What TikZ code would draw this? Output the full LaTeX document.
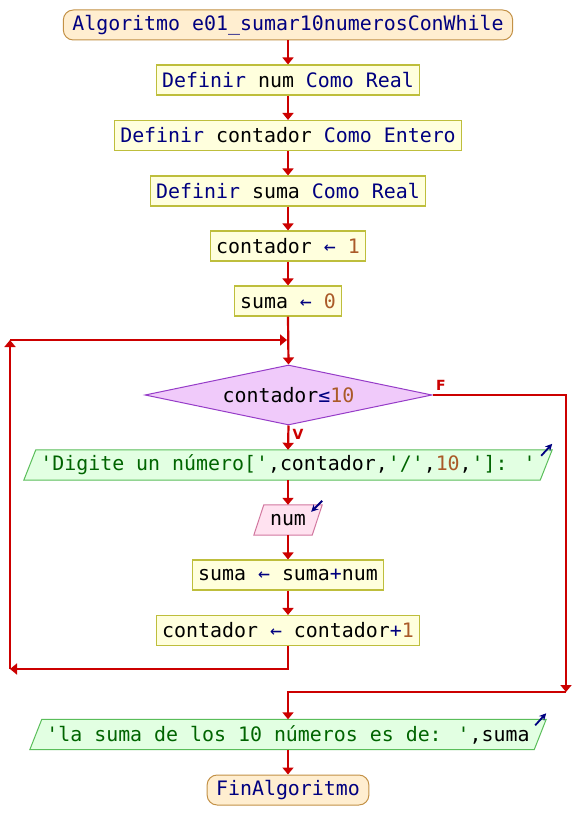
\documentclass[tikz,border=0pt]{standalone}
\usepackage{fontspec}
\newfontfamily\codefont[Ligatures=TeXOff]{DejaVu Sans Mono}
\newfontfamily\labelfont{DejaVu Sans}
\usetikzlibrary{arrows.meta,shapes.geometric,backgrounds}

% syntax colours
\definecolor{kwnavy}{RGB}{0,0,128}
\definecolor{strgreen}{RGB}{0,100,0}
\definecolor{numbrown}{RGB}{170,90,40}
% block colours
\definecolor{flowred}{RGB}{204,0,0}
\definecolor{procfill}{RGB}{255,255,221}
\definecolor{procborder}{RGB}{190,190,60}
\definecolor{termfill}{RGB}{255,238,208}
\definecolor{termborder}{RGB}{195,145,70}
\definecolor{decfill}{RGB}{240,202,250}
\definecolor{decborder}{RGB}{150,60,200}
\definecolor{outfill}{RGB}{226,255,226}
\definecolor{outborder}{RGB}{90,190,90}
\definecolor{infill}{RGB}{255,226,240}
\definecolor{inborder}{RGB}{210,120,160}

\newcommand\kwd[1]{\textcolor{kwnavy}{#1}}
\newcommand\strg[1]{\textcolor{strgreen}{#1}}
\newcommand\nmb[1]{\textcolor{numbrown}{#1}}
\newcommand\opr[1]{\textcolor{kwnavy}{#1}}

\begin{document}
\begin{tikzpicture}[x=1pt,y=-1pt,
  every node/.style={font=\codefont\fontsize{19.9}{24}\selectfont},
  flowline/.style={draw=flowred,line width=2.2pt},
  flowarrow/.style={flowline,-{Triangle[width=11pt,length=7pt]}},
  term/.style={rectangle,rounded corners=10pt,draw=termborder,fill=termfill,
    line width=1pt,minimum height=30pt,inner xsep=9pt,inner ysep=0pt},
  proc/.style={rectangle,draw=procborder,fill=procfill,line width=1.1pt,
    minimum height=30pt,inner xsep=6pt,inner ysep=0pt},
  decision/.style={diamond,draw=decborder,fill=decfill,line width=1pt,
    aspect=4.8,inner sep=0pt,minimum width=287pt,minimum height=60pt},
  iotext/.style={rectangle,minimum height=30pt,inner sep=0pt},
  outshape/.style={draw=outborder,fill=outfill,line width=1pt},
  inshape/.style={draw=inborder,fill=infill,line width=1pt},
  iomark/.style={draw=kwnavy,line width=1.8pt,-{Stealth[length=7pt,width=7pt]}},
  branch/.style={font=\labelfont\bfseries\fontsize{14}{16}\selectfont,text=flowred,inner sep=0pt}
]
\useasboundingbox (0,0) rectangle (576,840);
\begin{scope}[on background layer]
  \fill[white] (0,0) rectangle (576,840);
\end{scope}

% sequence of blocks
\node[term] (start) at (288,25) {\kwd{Algoritmo e01\_sumar10numerosConWhile}};
\node[proc] (d1) at (288,80) {\kwd{Definir} num \kwd{Como Real}};
\node[proc] (d2) at (288,135.5) {\kwd{Definir} contador \kwd{Como Entero}};
\node[proc] (d3) at (288,191) {\kwd{Definir} suma \kwd{Como Real}};
\node[proc] (a1) at (288,246) {contador \opr{←} \nmb{1}};
\node[proc] (a2) at (288,301) {suma \opr{←} \nmb{0}};
\node[decision] (dec) at (288.5,395) {contador\opr{≤}\nmb{10}};
\node[iotext,minimum width=504pt] (o1) at (288,465)
  {\strg{'Digite un número['},contador,\strg{'/'},\nmb{10},\strg{']: '}};
\node[iotext,minimum width=48pt] (in) at (288,520) {num};
\node[proc] (a3) at (288,575) {suma \opr{←} suma\opr{+}num};
\node[proc] (a4) at (288,630.5) {contador \opr{←} contador\opr{+}\nmb{1}};
\node[iotext,minimum width=492pt] (o2) at (288,734.5)
  {\strg{'la suma de los 10 números es de: '},suma};
\node[term] (stop) at (288,790) {\kwd{FinAlgoritmo}};

% parallelogram outlines behind the input/output texts
\begin{scope}[on background layer]
  \path[outshape] ([xshift=-12pt]o1.south west) -- (o1.south east)
    -- ([xshift=12pt]o1.north east) -- (o1.north west) -- cycle;
  \path[inshape] ([xshift=-10pt]in.south west) -- (in.south east)
    -- ([xshift=10pt]in.north east) -- (in.north west) -- cycle;
  \path[outshape] ([xshift=-12pt]o2.south west) -- (o2.south east)
    -- ([xshift=12pt]o2.north east) -- (o2.north west) -- cycle;
\end{scope}

% input / output markers
\draw[iomark] ([xshift=1pt,yshift=-6pt]o1.north east) -- ([xshift=12pt,yshift=6pt]o1.north east);
\draw[iomark] ([xshift=10pt,yshift=4pt]in.north east) -- ([xshift=-1pt,yshift=-7pt]in.north east);
\draw[iomark] ([xshift=1pt,yshift=-6pt]o2.north east) -- ([xshift=12pt,yshift=6pt]o2.north east);

% branch labels
\node[branch] (lf) at (441,385) {F};
\node[branch] (lv) at (298,434) {V};

% corner points of the loop and of the exit branch
\coordinate (lb) at (10,669);
\coordinate (lt) at (10,340);
\coordinate (jn) at (287,340);
\coordinate (fr) at (566,692);

% straight connectors
\draw[flowarrow] (start) -- (d1);
\draw[flowarrow] (d1) -- (d2);
\draw[flowarrow] (d2) -- (d3);
\draw[flowarrow] (d3) -- (a1);
\draw[flowarrow] (a1) -- (a2);
\draw[flowarrow] (a2.south) -- (dec.north);
\draw[flowarrow] (dec.south) -- (o1.north);
\draw[flowarrow] (o1.south) -- (in.north);
\draw[flowarrow] (in.south) -- (a3.north);
\draw[flowarrow] (a3) -- (a4);
\draw[flowarrow] (o2.south) -- (stop.north);

% loop back to the condition
\draw[flowarrow] (a4.south) |- (lb);
\draw[flowarrow] (lb) -- (lt);
\draw[flowarrow] (lt) -- (jn);

% exit branch
\draw[flowarrow] (dec.east) -| (fr);
\draw[flowarrow] (fr) -| (o2.north);
\end{tikzpicture}
\end{document}
